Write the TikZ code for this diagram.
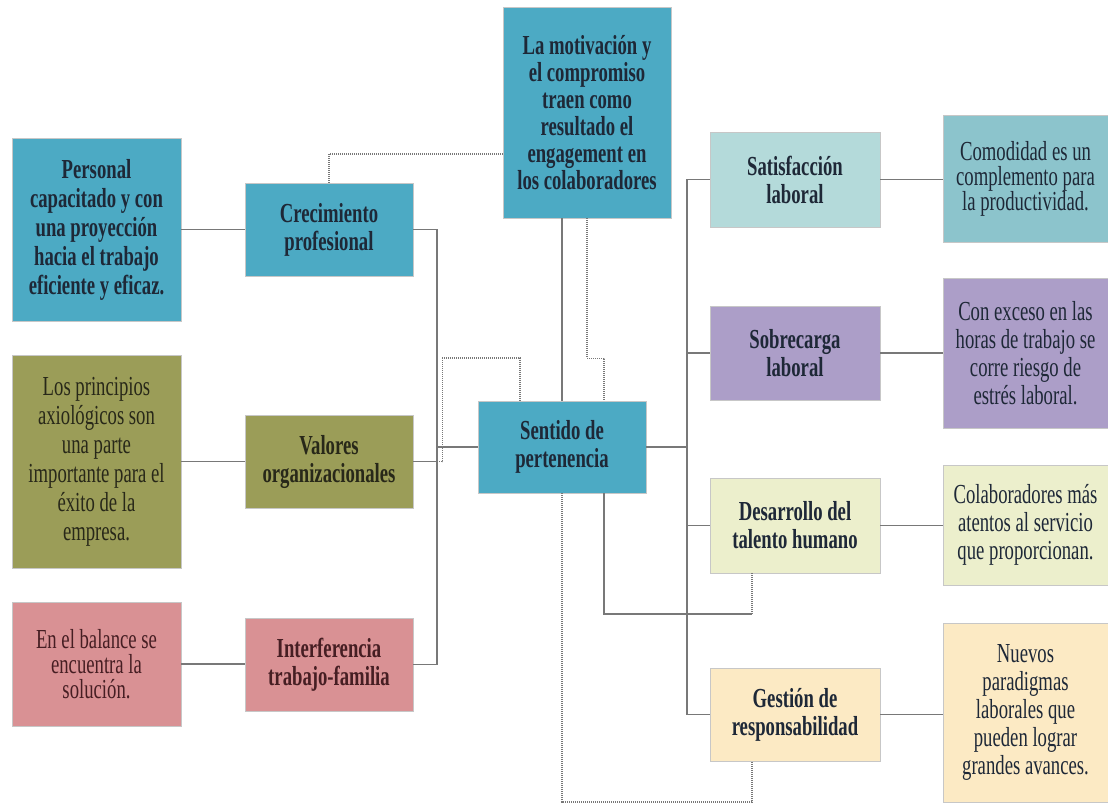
\documentclass[tikz,border=0pt]{standalone}
\usepackage{fontspec}
\setmainfont{Liberation Serif}[FakeStretch=0.68]
\definecolor{teal1}{RGB}{76,170,196}
\definecolor{olive1}{RGB}{155,157,88}
\definecolor{pink1}{RGB}{217,145,148}
\definecolor{ltteal}{RGB}{180,218,218}
\definecolor{midteal}{RGB}{140,196,204}
\definecolor{purp}{RGB}{172,158,200}
\definecolor{ygreen}{RGB}{236,239,204}
\definecolor{cream}{RGB}{252,234,196}
\definecolor{ink}{RGB}{30,40,55}
\definecolor{oink}{RGB}{40,40,25}
\definecolor{pink}{RGB}{70,30,35}
\definecolor{linec}{RGB}{120,120,120}
\newcommand\Bx[7]{\node[boxst,#6,minimum width={(#4-#2)*1pt},minimum height={(#5-#3)*1pt}] (#1) at ({(#2+#4)/2},{(#3+#5)/2}) {#7};}
\begin{document}
\begin{tikzpicture}[x=1pt,y=-1pt,
  boxst/.style={draw=black!22,line width=0.6pt,inner sep=0pt,align=center,
    font=\fontsize{27.5}{28}\selectfont,text=ink},
  bold/.style={font=\fontsize{27.5}{28}\selectfont\bfseries},
  conn/.style={draw=linec,line width=1.5pt},
  dot/.style={draw=linec,line width=1.3pt,dash pattern=on 1pt off 1pt}]
\useasboundingbox (0,0) rectangle (1108,807);
% nodes
\Bx{top}{503}{7}{671}{218}{fill=teal1,font=\fontsize{27.5}{27}\selectfont\bfseries}{La motivación y\\el compromiso\\traen como\\resultado el\\engagement en\\los colaboradores}
\Bx{pers}{12}{138}{181}{321}{fill=teal1,font=\fontsize{27.5}{29}\selectfont\bfseries}{Personal\\capacitado y con\\una proyección\\hacia el trabajo\\eficiente y eficaz.}
\Bx{crec}{245}{183}{413}{276}{fill=teal1,bold}{Crecimiento\\profesional}
\Bx{prin}{12}{355}{181}{568}{fill=olive1,text=oink,font=\fontsize{27.5}{29}\selectfont}{Los principios\\axiológicos son\\una parte\\importante para el\\éxito de la\\empresa.}
\Bx{valo}{245}{415}{413}{508}{fill=olive1,text=oink,bold}{Valores\\organizacionales}
\Bx{bal}{12}{602}{181}{726}{fill=pink1,text=pink,font=\fontsize{27.5}{25}\selectfont}{En el balance se\\encuentra la\\solución.}
\Bx{inter}{245}{618}{413}{711}{fill=pink1,text=pink,bold}{Interferencia\\trabajo-familia}
\Bx{sent}{478}{401}{646}{493}{fill=teal1,bold}{Sentido de\\pertenencia}
\Bx{sat}{710}{132}{880}{227}{fill=ltteal,bold}{Satisfacción\\laboral}
\Bx{como}{943}{115}{1108}{242}{fill=midteal,font=\fontsize{27.5}{25}\selectfont}{Comodidad es un\\complemento para\\la productividad.}
\Bx{sob}{710}{306}{880}{400}{fill=purp,bold}{Sobrecarga\\laboral}
\Bx{exc}{943}{278}{1108}{428}{fill=purp}{Con exceso en las\\horas de trabajo se\\corre riesgo de\\estrés laboral.}
\Bx{des}{710}{478}{880}{573}{fill=ygreen,bold}{Desarrollo del\\talento humano}
\Bx{colab}{943}{465}{1108}{585}{fill=ygreen}{Colaboradores más\\atentos al servicio\\que proporcionan.}
\Bx{ges}{710}{668}{880}{761}{fill=cream,bold}{Gestión de\\responsabilidad}
\Bx{nue}{943}{623}{1108}{802}{fill=cream}{Nuevos\\paradigmas\\laborales que\\pueden lograr\\grandes avances.}
% coordinates
\coordinate (lb) at (437,447);
\coordinate (rb) at (687,447);
\coordinate (tl) at (503,154);
\coordinate (dc) at (752,614);
\coordinate (gc) at (562,802);
% left side
\draw[conn] (pers.east) -- (crec.west);
\draw[conn] (prin.east) -- (valo.west);
\draw[conn] (bal.east) -- (bal.east -| inter.west);
\draw[conn] (crec.east) -| (lb) |- (inter.east);
\draw[conn] (sent.west) -- (lb);
\draw[conn] (valo.east) -- (valo.east -| lb);
\draw[dot] (valo.east) -- ++(29,0) -- ++(0,-103.5) -| ([xshift=-42pt]sent.north);
% top
\draw[dot] (tl) -| (crec.north);
\draw[conn] (sent.north) -- (sent.north |- top.south);
\draw[dot] (top.south) -- ++(0,140) -| ([xshift=42pt]sent.north);
% bottom
\draw[conn] ([xshift=42pt]sent.south) |- (dc);
\draw[dot] (dc) -- ([xshift=-43pt]des.south);
\draw[dot] (sent.south) -- (gc) -| ([xshift=-43pt]ges.south);
% right side
\draw[conn] (sent.east) -- (rb);
\draw[conn] (sat.west) -| (rb) |- (ges.west);
\draw[conn] (sob.west) -- (sob.west -| rb);
\draw[conn] (des.west) -- (des.west -| rb);
\draw[conn] (sat.east) -- (sat.east -| como.west);
\draw[conn] (sob.east) -- (sob.east -| exc.west);
\draw[conn] (des.east) -- (des.east -| colab.west);
\draw[conn] (ges.east) -- (ges.east -| nue.west);
\end{tikzpicture}
\end{document}
